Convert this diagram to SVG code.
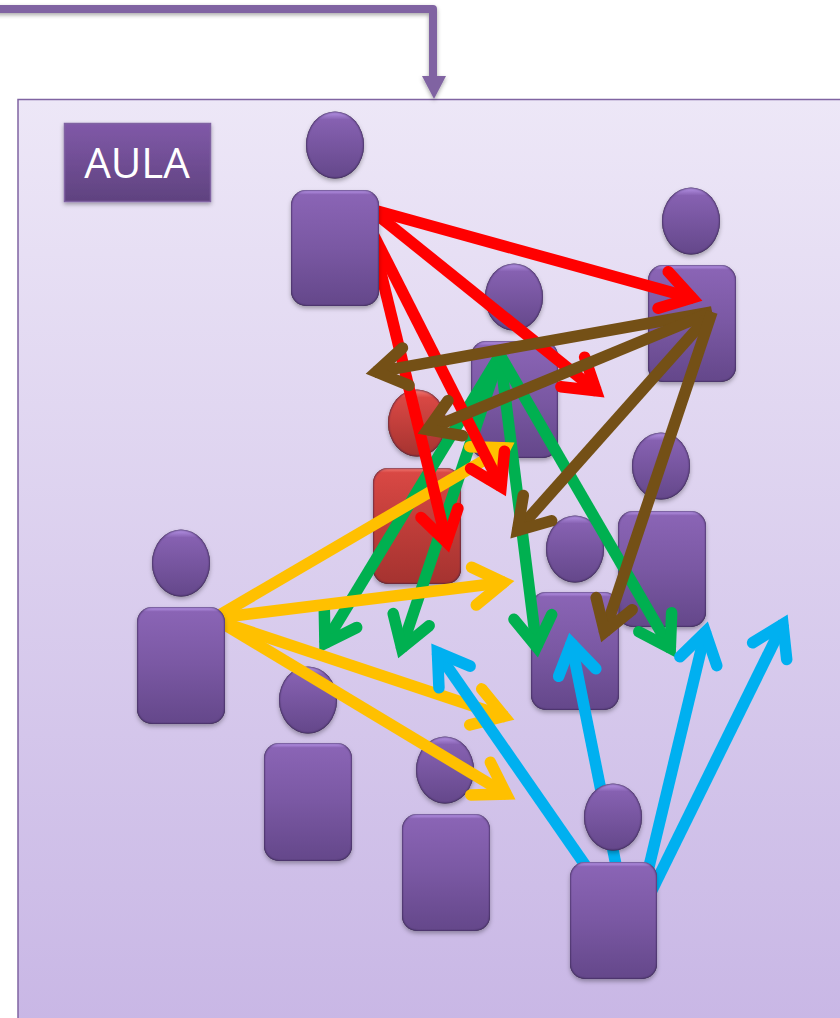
<svg xmlns="http://www.w3.org/2000/svg" width="840" height="1018" viewBox="0 0 840 1018">
<style>
.body{fill:url(#pb);filter:url(#bev)}
.head{fill:url(#ph);filter:url(#bev)}
.rbody{fill:url(#rb);filter:url(#bev)}
.rhead{fill:url(#rh);filter:url(#bev)}
.a{fill:none;stroke-width:11.5;stroke-linecap:butt}
.red{stroke:#FF0000;marker-end:url(#mr)}
.brown{stroke:#745016;marker-end:url(#mb)}
.green{stroke:#00B050;marker-end:url(#mg)}
.gold{stroke:#FFC000;marker-end:url(#my)}
.blue{stroke:#00B0F0;marker-end:url(#mc)}
.m{fill:none;stroke-width:11.5;stroke-linecap:round;stroke-linejoin:miter;stroke-miterlimit:10}
</style>
<defs>
<linearGradient id="bg" x1="0" y1="0" x2="0" y2="1"><stop offset="0" stop-color="#EDE7F7"/><stop offset="1" stop-color="#C8B6E5"/></linearGradient>
<linearGradient id="lb" x1="0" y1="0" x2="0" y2="1"><stop offset="0" stop-color="#8059A8"/><stop offset="1" stop-color="#5F427F"/></linearGradient>
<linearGradient id="pb" x1="0" y1="0" x2="0" y2="1"><stop offset="0" stop-color="#BE9CF0"/><stop offset=".04" stop-color="#8A64B5"/><stop offset=".5" stop-color="#7A58A3"/><stop offset="1" stop-color="#64478A"/></linearGradient>
<linearGradient id="ph" x1="0" y1="0" x2="0" y2="1"><stop offset="0" stop-color="#B795E8"/><stop offset=".12" stop-color="#8661B1"/><stop offset="1" stop-color="#64478A"/></linearGradient>
<linearGradient id="rb" x1="0" y1="0" x2="0" y2="1"><stop offset="0" stop-color="#F47C76"/><stop offset=".04" stop-color="#D94844"/><stop offset=".5" stop-color="#BF3D39"/><stop offset="1" stop-color="#A53330"/></linearGradient>
<linearGradient id="rh" x1="0" y1="0" x2="0" y2="1"><stop offset="0" stop-color="#F47C76"/><stop offset=".12" stop-color="#D94844"/><stop offset="1" stop-color="#A53330"/></linearGradient>
<filter id="sh" x="-20%" y="-20%" width="140%" height="140%"><feDropShadow dx="0" dy="2" stdDeviation="2" flood-color="#000" flood-opacity=".35"/></filter>
<filter id="bev" x="-20%" y="-20%" width="140%" height="140%" color-interpolation-filters="sRGB">
<feGaussianBlur in="SourceAlpha" stdDeviation="1.3" result="b"/>
<feComposite in="SourceAlpha" in2="b" operator="arithmetic" k2="1.6" k3="-1.6" result="rim"/>
<feFlood flood-color="#2E1F48" flood-opacity=".8"/>
<feComposite in2="rim" operator="in" result="dark"/>
<feDropShadow in="SourceAlpha" dx="0" dy="2.5" stdDeviation="2" flood-color="#000" flood-opacity=".3" result="ds"/>
<feMerge><feMergeNode in="ds"/><feMergeNode in="SourceGraphic"/><feMergeNode in="dark"/></feMerge>
</filter>
<marker id="mr" markerUnits="userSpaceOnUse" markerWidth="70" markerHeight="70" refX="52" refY="30" orient="auto" overflow="visible"><path class="m" stroke="#FF0000" d="M20,11L50,30L20,49"/></marker>
<marker id="mb" markerUnits="userSpaceOnUse" markerWidth="70" markerHeight="70" refX="52" refY="30" orient="auto" overflow="visible"><path class="m" stroke="#745016" d="M20,11L50,30L20,49"/></marker>
<marker id="mg" markerUnits="userSpaceOnUse" markerWidth="70" markerHeight="70" refX="52" refY="30" orient="auto" overflow="visible"><path class="m" stroke="#00B050" d="M20,11L50,30L20,49"/></marker>
<marker id="my" markerUnits="userSpaceOnUse" markerWidth="70" markerHeight="70" refX="52" refY="30" orient="auto" overflow="visible"><path class="m" stroke="#FFC000" d="M20,11L50,30L20,49"/></marker>
<marker id="mc" markerUnits="userSpaceOnUse" markerWidth="70" markerHeight="70" refX="52" refY="30" orient="auto" overflow="visible"><path class="m" stroke="#00B0F0" d="M20,11L50,30L20,49"/></marker>
</defs>
<rect width="840" height="1018" fill="#fff"/>
<g id="aula-room"><rect x="18" y="99.5" width="840" height="940" fill="url(#bg)" stroke="#8064A2" stroke-width="1.5"/></g>
<g id="aula-label"><rect x="64.5" y="123.5" width="146" height="78" fill="url(#lb)" stroke="#8064A2" stroke-width="1.5" filter="url(#sh)"/><text x="137" y="178" text-anchor="middle" font-family="'Open Sans',sans-serif" font-size="42" fill="#fff">AULA</text></g>
<g id="entry-connector" filter="url(#sh)"><path d="M-5,9H433V78" fill="none" stroke="#8064A2" stroke-width="8" stroke-linejoin="round"/><polygon points="422,76 446,76 434,99" fill="#8064A2"/></g>
<g id="person-2"><ellipse class="head" cx="691" cy="221" rx="29" ry="33.5"/><rect class="body" x="648" y="265" width="88" height="117" rx="15"/></g>
<g id="person-3"><ellipse class="head" cx="514" cy="297" rx="29" ry="33.5"/><rect class="body" x="471" y="341" width="87" height="117" rx="15"/></g>
<g id="person-red"><ellipse class="rhead" cx="417" cy="423" rx="29" ry="33.5"/><rect class="rbody" x="373" y="468" width="88" height="116" rx="15"/></g>
<g id="person-5"><ellipse class="head" cx="661" cy="466" rx="29" ry="33.5"/><rect class="body" x="618" y="511" width="88" height="116" rx="15"/></g>
<g id="person-6"><ellipse class="head" cx="575" cy="549" rx="29" ry="33.5"/><rect class="body" x="531" y="592" width="88" height="118" rx="15"/></g>
<g id="person-8"><ellipse class="head" cx="308" cy="700" rx="29" ry="33.5"/><rect class="body" x="264" y="743" width="88" height="118" rx="15"/></g>
<g id="person-9"><ellipse class="head" cx="445" cy="770" rx="29" ry="33.5"/><rect class="body" x="402" y="814" width="88" height="117" rx="15"/></g>
<g id="connectors">
<line class="a green" x1="500" y1="355" x2="323.9" y2="645"/>
<line class="a green" x1="500" y1="355" x2="401" y2="650"/>
<line class="a green" x1="500" y1="355" x2="536.8" y2="648.7"/>
<line class="a green" x1="500" y1="355" x2="671.3" y2="649.9"/>
<line class="a gold" x1="212" y1="619.5" x2="507" y2="446.9"/>
<line class="a gold" x1="212" y1="618.6" x2="505.7" y2="582.2"/>
<line class="a gold" x1="212" y1="619" x2="506.1" y2="717"/>
<line class="a gold" x1="212" y1="617" x2="508" y2="795.1"/>
<line class="a blue" x1="590" y1="872" x2="436.3" y2="650.7"/>
<line class="a blue" x1="617" y1="870" x2="570.9" y2="641.2"/>
<line class="a blue" x1="647" y1="875" x2="705.8" y2="630.1"/>
<line class="a blue" x1="650.4" y1="893.5" x2="783.8" y2="622.4"/>
<line class="a red" x1="370" y1="209" x2="694" y2="298.5"/>
<line class="a red" x1="370" y1="209" x2="597.7" y2="392"/>
<line class="a red" x1="370" y1="228" x2="502" y2="488.4"/>
<line class="a red" x1="370" y1="228" x2="447" y2="544"/>
<line class="a brown" x1="712" y1="312" x2="374.3" y2="372.3"/>
<line class="a brown" x1="712" y1="312" x2="425.7" y2="430.4"/>
<line class="a brown" x1="712" y1="312" x2="516.2" y2="532"/>
<line class="a brown" x1="712" y1="312" x2="604" y2="634"/>
</g>
<g id="person-1"><ellipse class="head" cx="335" cy="145" rx="29" ry="33.5"/><rect class="body" x="291" y="190" width="88" height="116" rx="15"/></g>
<g id="person-7"><ellipse class="head" cx="181" cy="563" rx="29" ry="33.5"/><rect class="body" x="137" y="607" width="88" height="117" rx="15"/></g>
<g id="person-10"><ellipse class="head" cx="613" cy="817" rx="29" ry="33.5"/><rect class="body" x="570" y="862" width="87" height="117" rx="15"/></g>
</svg>
